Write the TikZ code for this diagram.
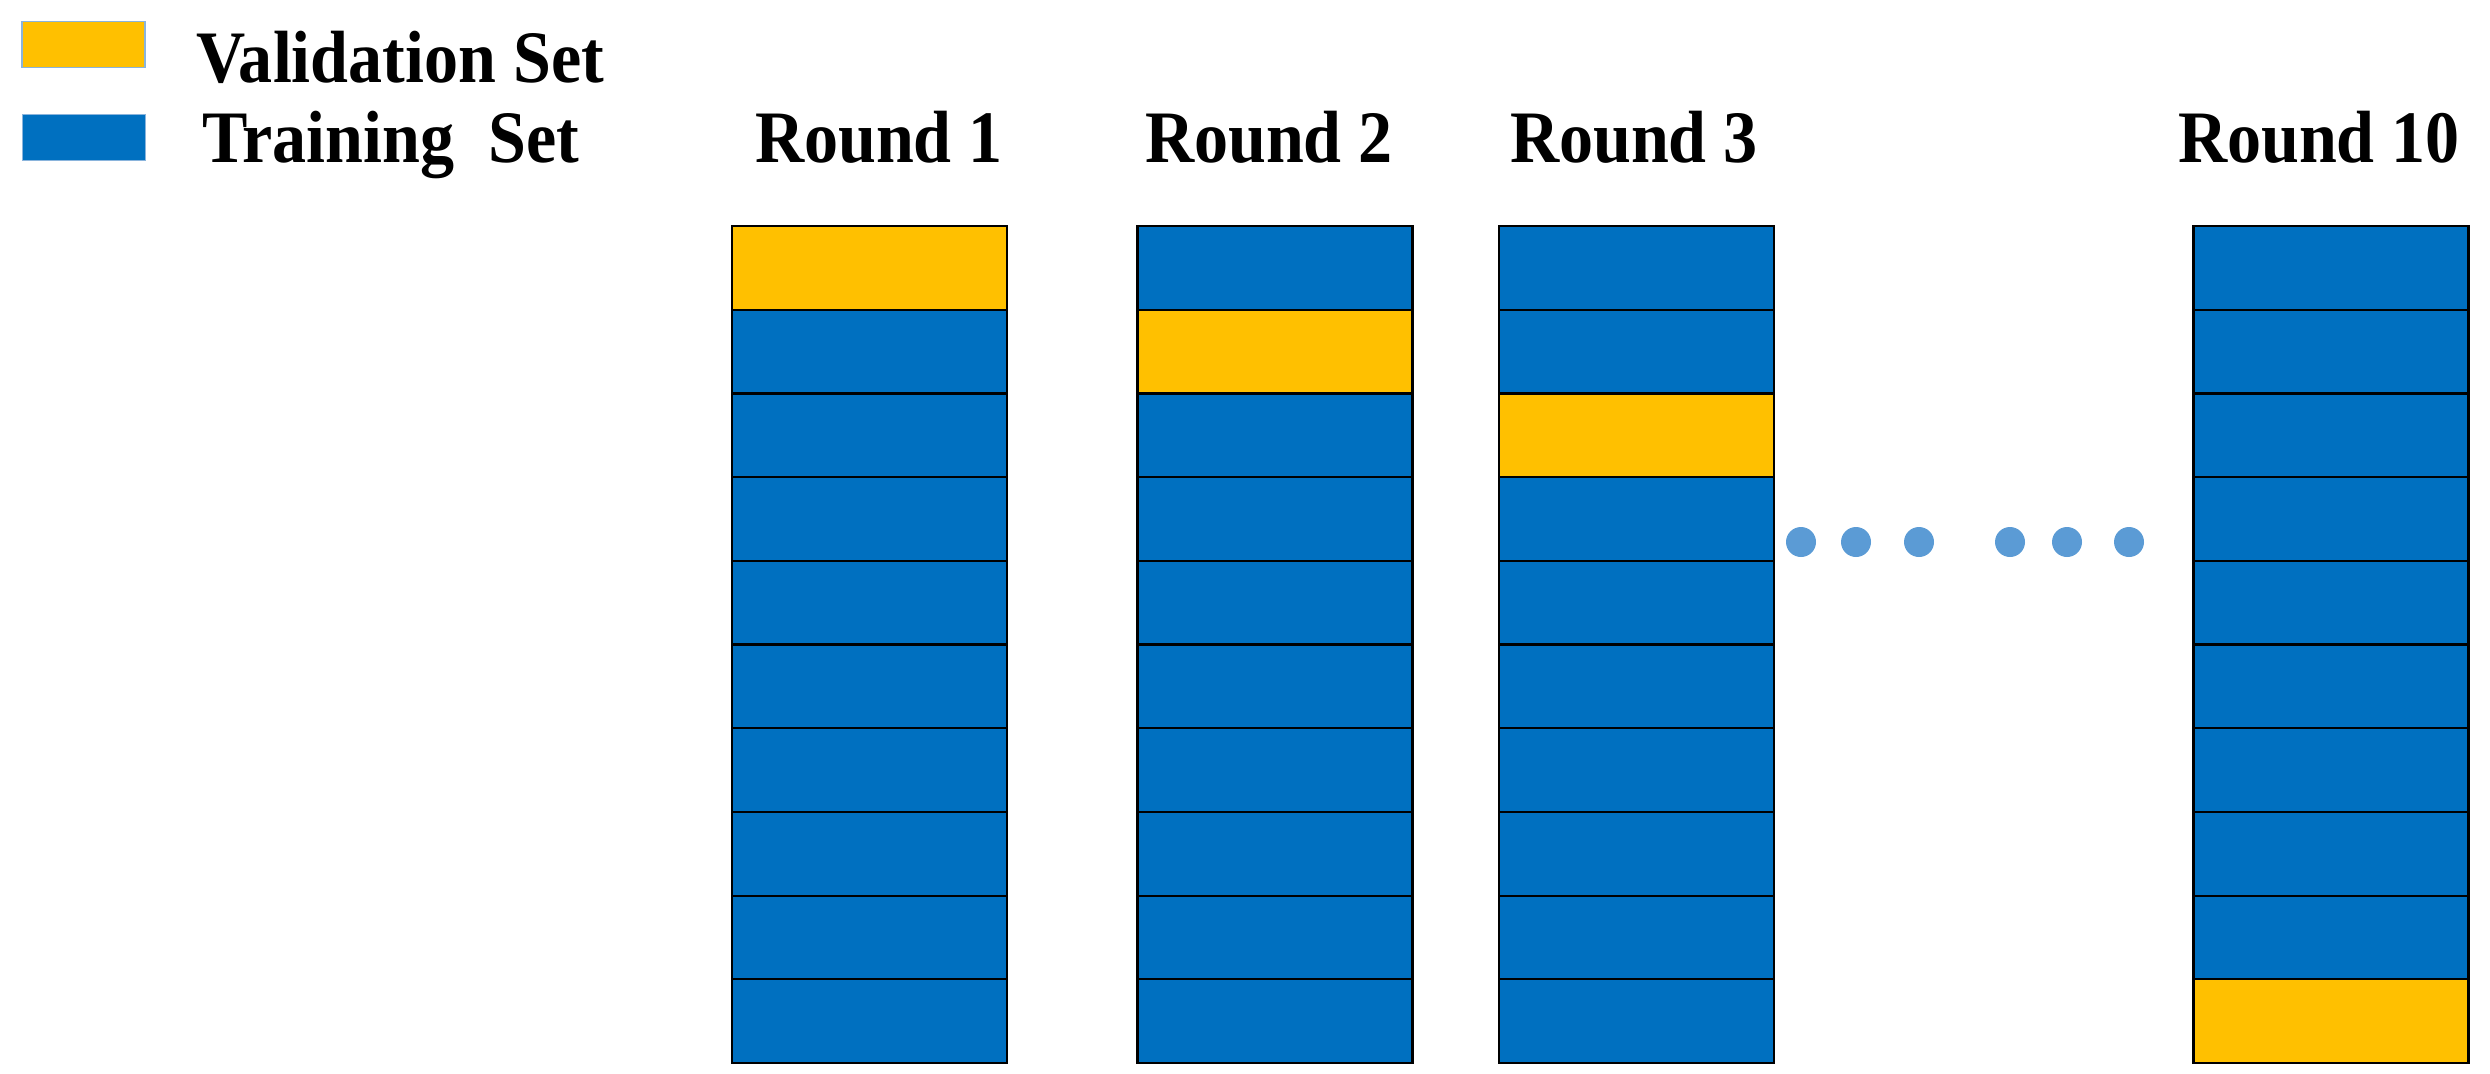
\documentclass[tikz,border=0pt]{standalone}
\usepackage{fontspec}
\usepackage{graphicx}
\setmainfont{Liberation Serif}
\definecolor{valY}{HTML}{FFC000}
\definecolor{trnB}{HTML}{0070C0}
\definecolor{dotB}{HTML}{5B9BD5}
\definecolor{legEdge}{HTML}{8AB4DC}
\newcommand{\lbl}[1]{\scalebox{0.92}[1]{\fontsize{37pt}{40pt}\selectfont\bfseries #1}}
\begin{document}
\begin{tikzpicture}[x=0.5pt,y=-0.5pt,
  cell/.style={draw=black,line width=1.1pt,inner sep=0pt,outer sep=0pt,
    minimum width=137.5pt,minimum height=41.85pt,fill=trnB},
  valcell/.style={cell,fill=valY},
  legbox/.style={draw=legEdge,line width=0.6pt,inner sep=0pt,outer sep=0pt,
    minimum width=61.5pt,minimum height=23pt},
  title/.style={anchor=base west,inner sep=0pt,outer sep=0pt},
  dotn/.style={circle,fill=dotB,inner sep=0pt,minimum size=15pt}]
\useasboundingbox (0,0) rectangle (2490,1073);
% legend
\node[legbox,fill=valY] (legV) at (83.5,44.5) {};
\node[legbox,fill=trnB] (legT) at (84,137.5) {};
\node[title] (legVt) at (196,82) {\lbl{Validation Set}};
\node[title] (legTt) at (202,162) {\lbl{Training\hspace{0.5em}Set}};
% round titles
\node[title] (t1) at (755,162) {\lbl{Round 1}};
\node[title] (t2) at (1145,162) {\lbl{Round 2}};
\node[title] (t3) at (1510,162) {\lbl{Round 3}};
\node[title] (t10) at (2178,162) {\lbl{Round 10}};
% columns
\foreach \c/\x/\v in {1/869.5/1, 2/1275/2, 3/1636.5/3, 10/2331/10} {
  \foreach \r in {1,...,10} {
    \pgfmathsetmacro{\yy}{226+(\r-0.5)*83.7}
    \ifnum\r=\v
      \node[valcell] (c\c r\r) at (\x,\yy) {};
    \else
      \node[cell] (c\c r\r) at (\x,\yy) {};
    \fi
  }
}
% dots
\node[dotn] (d1) at (1801,542) {};
\node[dotn] (d2) at (1856,542) {};
\node[dotn] (d3) at (1919,542) {};
\node[dotn] (d4) at (2010,542) {};
\node[dotn] (d5) at (2067,542) {};
\node[dotn] (d6) at (2129,542) {};
\end{tikzpicture}
\end{document}
